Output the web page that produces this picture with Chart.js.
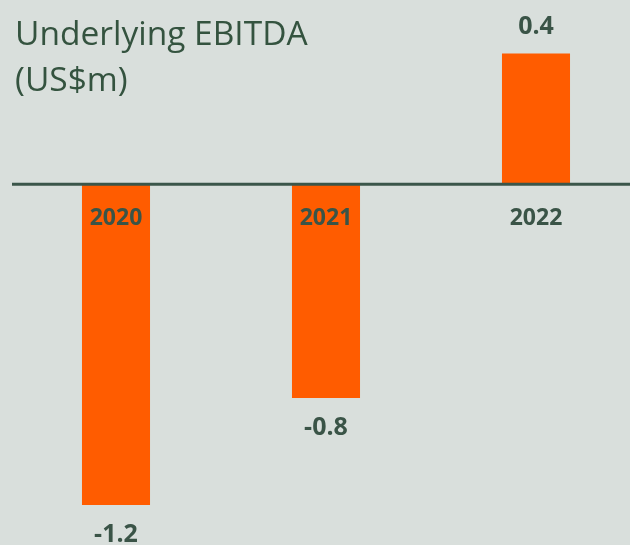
<!DOCTYPE html>
<html>
<head>
<meta charset="utf-8">
<script src="https://cdn.jsdelivr.net/npm/chart.js@4"></script>
<style>
  html, body { margin: 0; padding: 0; background: #d9dfdc; overflow: hidden; width: 630px; height: 545px; }
  canvas { display: block; }
</style>
</head>
<body>
<canvas id="c" width="641" height="545"></canvas>
<script>
const categories = ["2020", "2021", "2022"];
const ebitda = [-1.2, -0.8, 0.49];
const valueLabels = ["-1.2", "-0.8", "0.4"];
const titleLines = ["Underlying EBITDA", "(US$m)"];

const textColor = "#34533f";
const darkText = "#3a5447";

const overlay = {
  id: "overlay",
  afterDatasetsDraw(chart) {
    const ctx = chart.ctx;
    const xs = chart.scales.x, ys = chart.scales.y;
    const y0 = ys.getPixelForValue(0);
    // zero line
    ctx.save();
    ctx.strokeStyle = "#3b564a";
    ctx.lineWidth = 3;
    ctx.beginPath();
    ctx.moveTo(12, y0);
    ctx.lineTo(chart.width, y0);
    ctx.stroke();
    // category labels
    ctx.fillStyle = darkText;
    ctx.font = "bold 23px 'Open Sans'";
    ctx.textAlign = "center";
    ctx.textBaseline = "middle";
    categories.forEach((c, i) => {
      ctx.fillText(c, xs.getPixelForValue(i), y0 + 34);
    });
    // value labels
    const meta = chart.getDatasetMeta(0);
    ctx.font = "bold 25px 'Open Sans'";
    meta.data.forEach((bar, i) => {
      const v = ebitda[i];
      const y = v >= 0 ? bar.y - 27 : bar.y + 30;
      ctx.fillText(valueLabels[i], bar.x, y);
    });
    // title
    ctx.textAlign = "left";
    ctx.textBaseline = "alphabetic";
    ctx.fillStyle = textColor;
    ctx.font = "33.5px 'Open Sans'";
    titleLines.forEach((t, i) => ctx.fillText(t, 15, 45 + i * 46));
    ctx.restore();
  }
};

new Chart(document.getElementById("c"), {
  type: "bar",
  data: {
    labels: categories,
    datasets: [{
      data: ebitda,
      backgroundColor: "#ff5c00",
      borderWidth: 0,
      barPercentage: 0.324,
      categoryPercentage: 1
    }]
  },
  options: {
    responsive: false,
    animation: false,
    devicePixelRatio: 1,
    layout: { padding: { left: 11, right: 0, top: 0, bottom: 0 } },
    plugins: { legend: { display: false }, tooltip: { enabled: false }, title: { display: false } },
    scales: {
      x: { display: false },
      y: { display: false, min: -1.35, max: 0.69 }
    }
  },
  plugins: [overlay]
});
</script>
</body>
</html>
